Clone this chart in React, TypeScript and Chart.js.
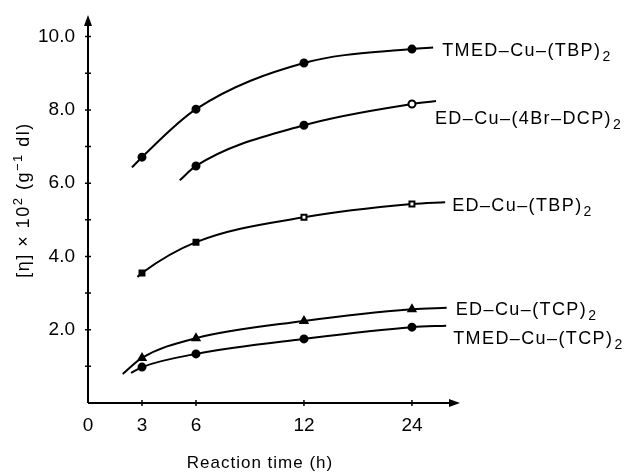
import React, { useEffect, useRef } from 'react';
import { Chart, registerables, LinearScale } from 'chart.js';

Chart.register(...registerables);

// ---- data ----
const tickHours = [0, 3, 6, 12, 24];
const sampleHours = [3, 6, 12, 24];
const yTickValues = [2, 4, 6, 8, 10];
const yMinorTicks = [1, 3, 5, 7, 9];
const seriesNames = ['TMED–Cu–(TBP)', 'ED–Cu–(4Br–DCP)', 'ED–Cu–(TBP)', 'ED–Cu–(TCP)', 'TMED–Cu–(TCP)'];
const tmedTBP = [6.71, 8.02, 9.28, 9.66];
const edBrDCP = [null, 6.47, 7.58, 8.16];
const edTBP = [3.55, 4.39, 5.07, 5.43];
const edTCP = [1.23, 1.77, 2.24, 2.56];
const tmedTCP = [0.98, 1.34, 1.75, 2.07];
// extents of the drawn fitted curves
const curveStartHours = [2.44, 5.1, 2.75, 1.93, 2.39];
const curveStartValues = [6.43, 6.08, 3.44, 0.79, 0.82];
const curveEndHours = [27.5, 28.0, 29.7, 30.0, 29.9];
const curveEndValues = [9.7, 8.24, 5.48, 2.6, 2.11];

const seriesValues = [tmedTBP, edBrDCP, edTBP, edTCP, tmedTCP];
const markerStyles = ['circle', 'circle', 'rect', 'triangle', 'circle'];
const openMarkers = [[], [3], [2, 3], [], []];
const labelOffsets = [[9, 1], [-1, 16], [7, 2], [9, 0], [7, 11]];

// axis: linear from 0 to 6 h, then equal spacing per doubling
function toAxisUnits(h: number) {
  return h <= 6 ? h : 6 + 6 * Math.log2(h / 6);
}
function fromAxisUnits(u: number) {
  return u <= 6 ? u : 6 * Math.pow(2, (u - 6) / 6);
}

class ReactionTimeScale extends LinearScale {
  static id = 'reactionTime';
  static defaults = LinearScale.defaults;
  getPixelForValue(value: any, index?: number) {
    if (value === null || value === undefined) return NaN;
    return super.getPixelForValue(toAxisUnits(value), index);
  }
  getValueForPixel(pixel: number) {
    return fromAxisUnits(super.getValueForPixel(pixel));
  }
  // bounds reported in hours (used by the line controller for visibility)
  getUserBounds() {
    const b: any = super.getUserBounds();
    return { ...b, min: fromAxisUnits(b.min), max: fromAxisUnits(b.max) };
  }
  determineDataLimits() {
    super.determineDataLimits();
    (this as any).min = toAxisUnits((this as any).min);
    (this as any).max = toAxisUnits((this as any).max);
  }
}
Chart.register(ReactionTimeScale as any);

const FONT = '"Liberation Sans", Arial, Helvetica, sans-serif';

const annotate = {
  id: 'annotate',
  afterDraw(chart: any) {
    const ctx = chart.ctx;
    const xs = chart.scales.x;
    const ys = chart.scales.y;
    const x0 = xs.getPixelForValue(0);
    const y0 = ys.getPixelForValue(0);
    const top = chart.chartArea.top;
    const right = chart.chartArea.right;
    ctx.save();
    ctx.strokeStyle = '#000';
    ctx.fillStyle = '#000';
    ctx.lineWidth = 2;
    // axes
    ctx.beginPath();
    ctx.moveTo(x0, y0);
    ctx.lineTo(x0, top + 6);
    ctx.moveTo(x0, y0);
    ctx.lineTo(right - 6, y0);
    ctx.stroke();
    // arrowheads
    ctx.beginPath();
    ctx.moveTo(x0, top);
    ctx.lineTo(x0 - 4, top + 11);
    ctx.lineTo(x0 + 4, top + 11);
    ctx.closePath();
    ctx.fill();
    ctx.beginPath();
    ctx.moveTo(right, y0);
    ctx.lineTo(right - 11, y0 - 4);
    ctx.lineTo(right - 11, y0 + 4);
    ctx.closePath();
    ctx.fill();
    // tick marks
    ctx.lineWidth = 1.5;
    ctx.beginPath();
    [...yTickValues, ...yMinorTicks].forEach((v) => {
      const y = ys.getPixelForValue(v);
      ctx.moveTo(x0 - 3, y);
      ctx.lineTo(x0 + 3, y);
    });
    sampleHours.forEach((h) => {
      const x = xs.getPixelForValue(h);
      ctx.moveTo(x, y0 - 3);
      ctx.lineTo(x, y0 + 3);
    });
    ctx.stroke();

    // x title
    ctx.font = `17px ${FONT}`;
    (ctx as any).letterSpacing = '1px';
    ctx.textAlign = 'center';
    ctx.textBaseline = 'middle';
    ctx.fillText('Reaction time (h)', 260, 463);

    // y title (rotated, with superscripts)
    const parts: [string, boolean][] = [
      ['[η] × 10', false],
      ['2', true],
      [' (g', false],
      ['−1', true],
      [' dl)', false],
    ];
    const big = `18px ${FONT}`;
    const small = `13px ${FONT}`;
    (ctx as any).letterSpacing = '1.5px';
    let total = 0;
    parts.forEach(([t, sup]) => {
      ctx.font = sup ? small : big;
      total += ctx.measureText(t).width;
    });
    ctx.translate(23, 200);
    ctx.rotate(-Math.PI / 2);
    ctx.textAlign = 'left';
    ctx.textBaseline = 'alphabetic';
    let px = -total / 2;
    parts.forEach(([t, sup]) => {
      ctx.font = sup ? small : big;
      ctx.fillText(t, px, sup ? -1 : 6);
      px += ctx.measureText(t).width;
    });
    ctx.setTransform(1, 0, 0, 1, 0, 0);
    ctx.restore();

    // series labels
    ctx.save();
    ctx.fillStyle = '#000';
    ctx.textAlign = 'left';
    ctx.textBaseline = 'alphabetic';
    seriesNames.forEach((name, i) => {
      const meta = chart.getDatasetMeta(i);
      const last = meta.data[meta.data.length - 1];
      const lx = last.x + labelOffsets[i][0];
      const ly = last.y + labelOffsets[i][1] + 7;
      ctx.font = `18px ${FONT}`;
      (ctx as any).letterSpacing = '1.4px';
      ctx.fillText(name, lx, ly);
      const w = ctx.measureText(name).width;
      ctx.font = `14px ${FONT}`;
      (ctx as any).letterSpacing = '0px';
      ctx.fillText('2', lx + w + 1, ly + 5);
    });
    ctx.restore();
  },
};

function buildDataset(i: number) {
  const pts: { x: number; y: number }[] = [];
  const radius: number[] = [];
  const bg: string[] = [];
  pts.push({ x: curveStartHours[i], y: curveStartValues[i] });
  radius.push(0);
  bg.push('#000');
  seriesValues[i].forEach((v, k) => {
    if (v === null) return;
    pts.push({ x: sampleHours[k], y: v as number });
    radius.push(markerStyles[i] === 'triangle' ? 4 : 3.5);
    bg.push(openMarkers[i].includes(k) ? '#fff' : '#000');
  });
  pts.push({ x: curveEndHours[i], y: curveEndValues[i] });
  radius.push(0);
  bg.push('#000');
  return {
    label: seriesNames[i] + '2',
    data: pts,
    borderColor: '#000',
    borderWidth: 2,
    pointStyle: markerStyles[i],
    pointRadius: radius,
    pointBackgroundColor: bg,
    pointBorderColor: '#000',
    pointBorderWidth: 2,
    cubicInterpolationMode: 'monotone' as const,
    fill: false,
    clip: false,
  };
}

export default function App() {
  const ref = useRef<HTMLCanvasElement | null>(null);
  useEffect(() => {
    if (!ref.current) return;
    const tickFont = { family: FONT, size: 19 };
    const chart = new Chart(ref.current, {
      type: 'line',
      data: { datasets: seriesNames.map((_, i) => buildDataset(i)) as any },
      options: {
        animation: false,
        responsive: false,
        devicePixelRatio: 1,
        layout: { padding: { left: 0, top: 15, right: 175, bottom: 0 } },
        plugins: { legend: { display: false }, tooltip: { enabled: false } },
        scales: {
          x: {
            type: 'reactionTime' as any,
            min: 0,
            max: 20.67,
            afterBuildTicks: (s: any) => {
              s.ticks = tickHours.map((v) => ({ value: v }));
            },
            afterFit: (s: any) => {
              s.height = 69;
              s.paddingLeft = 0;
              s.paddingRight = 0;
            },
            grid: { display: false, drawTicks: false },
            border: { display: false },
            ticks: {
              autoSkip: false,
              maxRotation: 0,
              padding: 11,
              color: '#000',
              font: tickFont,
              callback: (v: any) => String(v),
            },
          } as any,
          y: {
            type: 'linear',
            min: 0,
            max: 10.59,
            afterBuildTicks: (s: any) => {
              s.ticks = yTickValues.map((v) => ({ value: v }));
            },
            afterFit: (s: any) => {
              s.width = 88;
              s.paddingTop = 0;
              s.paddingBottom = 0;
            },
            grid: { display: false, drawTicks: false },
            border: { display: false },
            ticks: {
              padding: 13,
              color: '#000',
              font: tickFont,
              callback: (v: any) => Number(v).toFixed(1),
            },
          },
        },
      },
      plugins: [annotate],
    });
    return () => chart.destroy();
  }, []);
  return (
    <div style={{ position: 'absolute', left: 0, top: 0, width: 635, height: 472, background: '#fff' }}>
      <canvas ref={ref} width={635} height={472} style={{ width: 635, height: 472 }} />
    </div>
  );
}
